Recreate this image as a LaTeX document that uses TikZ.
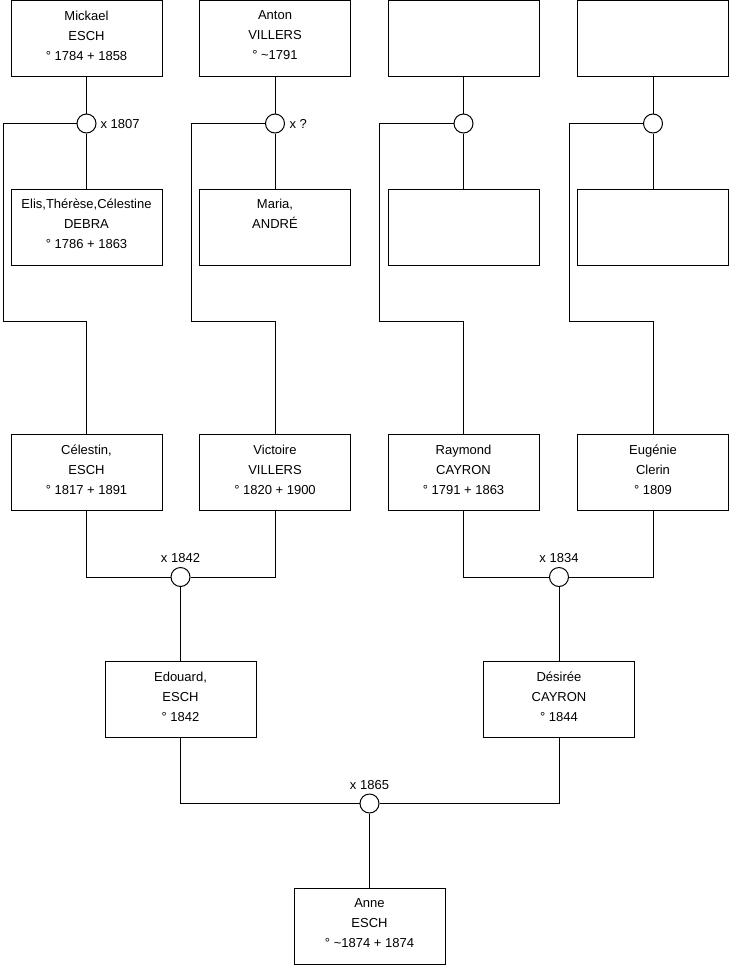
\documentclass[tikz,border=0pt]{standalone}
\usepackage{fontspec}
\setmainfont{Liberation Sans}
\begin{document}
\begin{tikzpicture}[x=1pt,y=-1pt,
  line width=1pt,
  person/.style={draw, fill=white, minimum width=151pt, minimum height=76pt, inner sep=0pt, align=center, font=\fontsize{13}{20}\selectfont, execute at end node={\rule[-6pt]{0pt}{6pt}}},
  union/.style={draw, fill=white, circle, minimum size=19pt, inner sep=0pt},
  lbl/.style={inner sep=0pt, font=\fontsize{13}{16}\selectfont}]
\useasboundingbox (0,0) rectangle (740,975);
% row 1
\node[person] (a1) at (86.5,38.5) {Mickael\\ESCH\\° 1784 + 1858};
\node[person] (a2) at (275,38.5) {Anton\\VILLERS\\° \textasciitilde1791};
\node[person] (a3) at (463.5,38.5) {};
\node[person] (a4) at (653,38.5) {};
% unions row 1
\node[union] (u1) at (86.5,123.5) {};
\node[union] (u2) at (275,123.5) {};
\node[union] (u3) at (463.5,123.5) {};
\node[union] (u4) at (653,123.5) {};
\node[lbl, anchor=west] (l1) at (100,124) {x 1807};
\node[lbl, anchor=west] (l2) at (289,124) {x ?};
% row 2
\node[person] (b1) at (86.5,227) {Elis,Thérèse,Célestine\\DEBRA\\° 1786 + 1863};
\node[person] (b2) at (275,227) {Maria,\\ANDRÉ\\~};
\node[person] (b3) at (463.5,227) {};
\node[person] (b4) at (653,227) {};
% row 3
\node[person] (c1) at (86.5,472.5) {Célestin,\\ESCH\\° 1817 + 1891};
\node[person] (c2) at (275,472.5) {Victoire\\VILLERS\\° 1820 + 1900};
\node[person] (c3) at (463.5,472.5) {Raymond\\CAYRON\\° 1791 + 1863};
\node[person] (c4) at (653,472.5) {Eugénie\\Clerin\\° 1809};
% corner coordinates
\coordinate (k1) at (3,321);
\coordinate (k2) at (191,321);
\coordinate (k3) at (379,321);
\coordinate (k4) at (569,321);
% row 1 connectors
\draw (a1) -- (u1); \draw (u1) -- (b1); \draw (u1) -| (k1) -| (c1);
\draw (a2) -- (u2); \draw (u2) -- (b2); \draw (u2) -| (k2) -| (c2);
\draw (a3) -- (u3); \draw (u3) -- (b3); \draw (u3) -| (k3) -| (c3);
\draw (a4) -- (u4); \draw (u4) -- (b4); \draw (u4) -| (k4) -| (c4);
% unions row 3
\node[union] (v1) at (180.5,577) {};
\node[union] (v2) at (559,577) {};
\node[lbl] (l3) at (180.5,558) {x 1842};
\node[lbl] (l4) at (559,558) {x 1834};
% row 4
\node[person] (d1) at (180.5,699.5) {Edouard,\\ESCH\\° 1842};
\node[person] (d2) at (559,699.5) {Désirée\\CAYRON\\° 1844};
\draw (c1) |- (v1); \draw (v1) -| (c2); \draw (v1) -- (d1);
\draw (c3) |- (v2); \draw (v2) -| (c4); \draw (v2) -- (d2);
% final union
\node[union] (w) at (369.5,803.5) {};
\node[lbl] (l5) at (369.5,785) {x 1865};
\node[person] (e) at (369.5,926) {Anne\\ESCH\\° \textasciitilde1874 + 1874};
\draw (d1) |- (w); \draw (w) -| (d2); \draw (w) -- (e);
\end{tikzpicture}
\end{document}
